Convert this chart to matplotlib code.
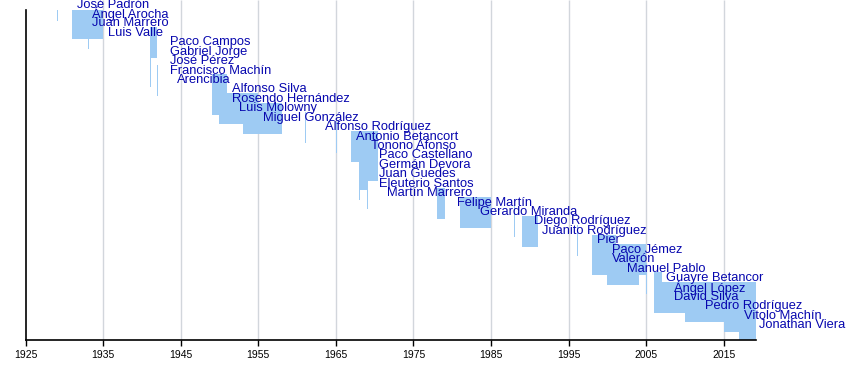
import matplotlib
matplotlib.use("Agg")
import matplotlib.pyplot as plt

# ---- data -------------------------------------------------------------
players = [
    "José Padrón", "Ángel Arocha", "Juan Marrero", "Luis Valle",
    "Paco Campos", "Gabriel Jorge", "José Pérez", "Francisco Machín",
    "Arencibia", "Alfonso Silva", "Rosendo Hernández", "Luis Molowny",
    "Miguel González", "Alfonso Rodríguez", "Antonio Betancort",
    "Tonono Afonso", "Paco Castellano", "Germán Devora", "Juan Guedes",
    "Eleuterio Santos", "Martín Marrero", "Felipe Martín",
    "Gerardo Miranda", "Diego Rodríguez", "Juanito Rodríguez", "Pier",
    "Paco Jémez", "Valerón", "Manuel Pablo", "Guayre Betancor",
    "Ángel López", "David Silva", "Pedro Rodríguez", "Vitolo Machín",
    "Jonathan Viera",
]
start_year = [
    1929.0, 1931.0, 1931.0, 1933.0,
    1941.0, 1941.0, 1941.0, 1941.0,
    1942.0, 1949.0, 1949.0, 1950.0,
    1953.0, 1961.0, 1965.0,
    1967.0, 1968.0, 1968.0, 1968.0,
    1968.0, 1969.0, 1978.0,
    1981.0, 1988.0, 1989.0, 1996.1,
    1998.0, 1998.0, 2000.0, 2005.0,
    2006.0, 2006.0, 2010.0, 2015.0,
    2017.0,
]
end_year = [
    1929.0, 1935.0, 1935.0, 1933.0,
    1942.0, 1941.0, 1941.0, 1941.0,
    1942.0, 1951.0, 1951.0, 1955.0,
    1958.1, 1961.0, 1965.0,
    1970.4, 1970.0, 1970.4, 1969.0,
    1968.0, 1969.0, 1979.1,
    1985.0, 1988.0, 1991.0, 1996.1,
    2001.1, 2005.0, 2004.1, 2005.0,
    2007.0, 2019.15, 2019.15, 2019.15,
    2019.15,
]
period = (1925, 2019.15)
major_ticks = list(range(1925, 2016, 10))

# ---- style ------------------------------------------------------------
BAR_COLOR = "#9ecbf3"
TEXT_COLOR = "#0606ae"
GRID_COLOR = "#d2d6dc"
FONT = "Liberation Sans"
LABEL_SHIFT = 2.58      # years (~20 px) right of bar start
MIN_WIDTH = 0.13        # ~1 px for single-date bars

W, H = 850, 370
fig = plt.figure(figsize=(W / 100, H / 100), dpi=100)
left_px, right_px, top_px, bottom_px = 25.5, 756.0, 9.5, 340.0
ax = fig.add_axes([left_px / W, (H - bottom_px) / H,
                   (right_px - left_px) / W, (bottom_px - top_px) / H])

row_px = 9.43
first_center_px = 4.5
y_top = (top_px - first_center_px) / row_px
y_bot = (bottom_px - first_center_px) / row_px
ax.set_xlim(*period)
ax.set_ylim(y_bot, y_top)

# gridlines extending to top of figure
ax.vlines(major_ticks[1:], 0, 1 + top_px / (bottom_px - top_px),
          transform=ax.get_xaxis_transform(), colors=GRID_COLOR,
          linewidth=1.0, zorder=1, clip_on=False)

bar_up, bar_down = 15 / row_px, 16 / row_px
for i, (s, e) in enumerate(zip(start_year, end_year)):
    w = max(e - s, MIN_WIDTH)
    ax.barh(i + (bar_down - bar_up) / 2, w, left=s,
            height=bar_up + bar_down, color=BAR_COLOR,
            linewidth=0, zorder=2)

for i, (name, s) in enumerate(zip(players, start_year)):
    ax.text(s + LABEL_SHIFT, i, name, ha="left", va="center",
            fontsize=9.3, color=TEXT_COLOR, family=FONT,
            zorder=4, clip_on=False)

for sp in ("top", "right"):
    ax.spines[sp].set_visible(False)
for sp in ("left", "bottom"):
    ax.spines[sp].set_color("black")
    ax.spines[sp].set_linewidth(1.2)
    ax.spines[sp].set_zorder(5)

ax.set_xticks(major_ticks)
ax.set_xticklabels([str(t) for t in major_ticks], family=FONT, fontsize=7.5)
ax.tick_params(axis="x", direction="out", length=4, width=1,
               pad=3, colors="black")
ax.set_yticks([])
ax.set_facecolor("white")
fig.patch.set_facecolor("white")

fig.savefig("out.png", dpi=100)
